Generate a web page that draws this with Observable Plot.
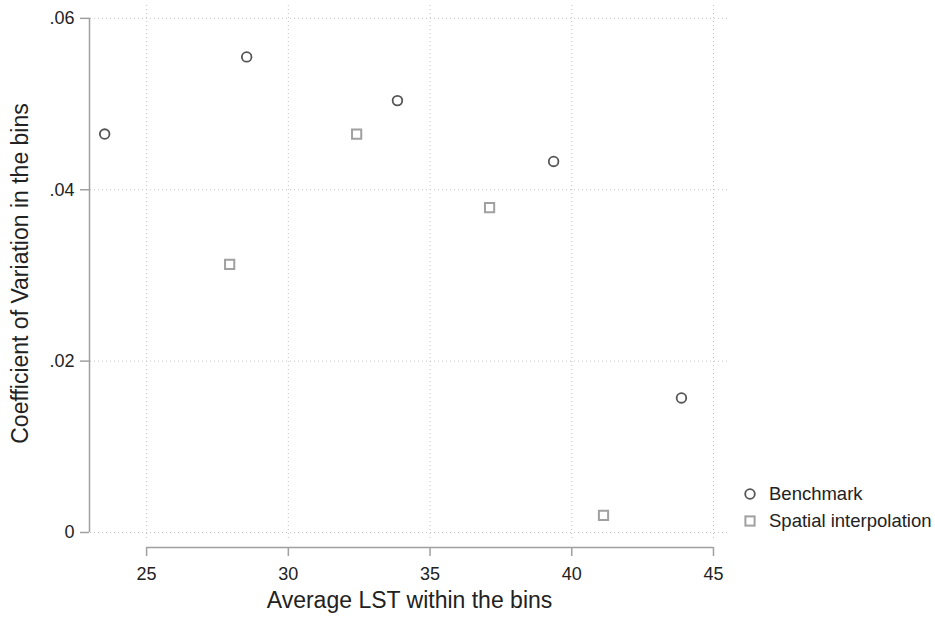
<!DOCTYPE html>
<html>
<head>
<meta charset="utf-8">
<script src="https://cdn.jsdelivr.net/npm/d3@7"></script>
<script src="https://cdn.jsdelivr.net/npm/@observablehq/plot@0.6"></script>
<style>
  html, body { margin: 0; padding: 0; background: #fff; }
  #wrap { position: relative; width: 935px; height: 617px; font-family: "Liberation Sans", Arial, sans-serif; }
  #legend { position: absolute; left: 742px; top: 480px; font-size: 18.5px; color: #222; }
  #legend .row { display: flex; align-items: center; height: 27px; }
  #legend svg { margin-right: 11px; }
</style>
</head>
<body>
<div id="wrap"><div id="legend"></div></div>
<script>
// Data
const benchX = [23.52, 28.53, 33.85, 39.36, 43.87];
const benchY = [0.0465, 0.0555, 0.0504, 0.0433, 0.0157];
const spatX  = [27.93, 32.41, 37.10, 41.12];
const spatY  = [0.0313, 0.0465, 0.0379, 0.0020];
const seriesNames = ["Benchmark", "Spatial interpolation"];
const xTicks = [25, 30, 35, 40, 45];
const yTicks = [0, 0.02, 0.04, 0.06];
const xLabel = "Average LST within the bins";
const yLabel = "Coefficient of Variation in the bins";

const bench = benchX.map((x, i) => ({x, y: benchY[i], s: seriesNames[0]}));
const spat = spatX.map((x, i) => ({x, y: spatY[i], s: seriesNames[1]}));

const xDomain = [23.02, 45.53];
const yDomain = [-0.00105, 0.0615];
const axisColor = "#a0a0a0";
const gridColor = "#c4c4c4";

const yFmt = d => d === 0 ? "0" : d3.format(".2f")(d).replace(/^0/, "");

const chart = Plot.plot({
  width: 935,
  height: 617,
  marginLeft: 90,
  marginRight: 207,
  marginTop: 5,
  marginBottom: 76,
  style: {fontFamily: '"Liberation Sans", Arial, sans-serif', fontSize: "18px", color: "#222", background: "transparent"},
  x: {domain: xDomain},
  y: {domain: yDomain},
  marks: [
    Plot.gridX({ticks: xTicks, stroke: gridColor, strokeOpacity: 1, strokeDasharray: "1,3"}),
    Plot.gridY({ticks: yTicks, stroke: gridColor, strokeOpacity: 1, strokeDasharray: "1,3"}),
    Plot.ruleX([{x: xDomain[0], y1: yTicks[0], y2: yTicks[yTicks.length - 1]}], {x: "x", y1: "y1", y2: "y2", stroke: axisColor, strokeWidth: 1.5, dx: -1}),
    Plot.ruleY([{y: yDomain[0], x1: xTicks[0], x2: xTicks[xTicks.length - 1]}], {y: "y", x1: "x1", x2: "x2", stroke: axisColor, strokeWidth: 1.5, dy: 6}),
    Plot.axisY({ticks: yTicks, tickFormat: yFmt, tickSize: 9, tickPadding: 6, stroke: axisColor, strokeWidth: 1.5, dx: -1,
      label: yLabel, labelAnchor: "center", labelArrow: "none", labelOffset: 79, fontSize: 18}),
    Plot.axisX({ticks: xTicks, tickSize: 9, tickPadding: 11, stroke: axisColor, strokeWidth: 1.5, dy: 6,
      label: xLabel, labelAnchor: "center", labelArrow: "none", labelOffset: 66, fontSize: 18}),
    Plot.dot(spat, {x: "x", y: "y", symbol: "square", r: 5.2, stroke: "#a0a0a0", strokeWidth: 2, fill: "none"}),
    Plot.dot(bench, {x: "x", y: "y", symbol: "circle", r: 4.8, stroke: "#555", strokeWidth: 1.8, fill: "none"})
  ]
});

// enlarge axis titles
d3.select(chart).selectAll('[aria-label="x-axis label"], [aria-label="y-axis label"]').attr("font-size", "23px");
d3.select(chart).selectAll('[aria-label="x-axis label"] text, [aria-label="y-axis label"] text').attr("font-size", "23px");

chart.style.position = "absolute";
chart.style.left = "0";
chart.style.top = "0";
const wrap = document.getElementById("wrap");
wrap.insertBefore(chart, wrap.firstChild);

// legend
const legend = document.getElementById("legend");
const legendStyles = [
  {name: seriesNames[0], shape: '<circle cx="8" cy="8" r="4.8" fill="none" stroke="#555" stroke-width="1.8"/>'},
  {name: seriesNames[1], shape: '<rect x="3.4" y="3.4" width="9.2" height="9.2" fill="none" stroke="#a0a0a0" stroke-width="2"/>'}
];
legendStyles.forEach(s => {
  const row = document.createElement("div");
  row.className = "row";
  row.innerHTML = `<svg width="16" height="16">${s.shape}</svg><span>${s.name}</span>`;
  legend.appendChild(row);
});
</script>
</body>
</html>
